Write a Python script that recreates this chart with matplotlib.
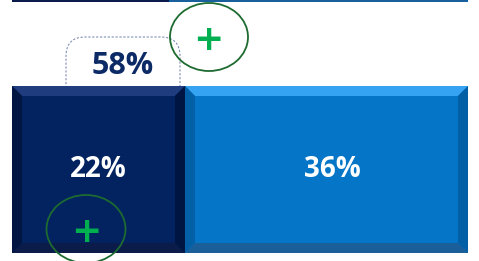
import numpy as np
import matplotlib.pyplot as plt
from matplotlib.patches import Ellipse, FancyBboxPatch, Polygon

plt.rcParams['font.family'] = ['Open Sans', 'DejaVu Sans']

# two stacked rows, the upper one is cut off by the top of the picture
rows = [0, 1]
part_a = [22, 20]      # dark segment (%)
part_b = [36, 38]      # light segment (%)
total_label = '58%'

navy = '#022260'
blue = '#0576C7'

fig = plt.figure(figsize=(4.79, 2.61), dpi=100)
ax = fig.add_axes([0, 0, 1, 1])
ax.set_xlim(-1.53, 59.4)
ax.set_ylim(-0.3645, 0.675)
ax.axis('off')

h = 0.665
bx = 10 / 7.86    # bevel width in x units
by = 10 / 251     # bevel width in y units


def bevel_bar(y, left, width, face, light, dark, side):
    ax.barh(y, width, left=left, height=h, color=face, zorder=3)
    x0, x1 = left, left + width
    y0, y1 = y - h / 2, y + h / 2
    top = [(x0, y1), (x1, y1), (x1 - bx, y1 - by), (x0 + bx, y1 - by)]
    bot = [(x0, y0), (x1, y0), (x1 - bx, y0 + by), (x0 + bx, y0 + by)]
    lft = [(x0, y0), (x0, y1), (x0 + bx, y1 - by), (x0 + bx, y0 + by)]
    rgt = [(x1, y0), (x1, y1), (x1 - bx, y1 - by), (x1 - bx, y0 + by)]
    ax.add_patch(Polygon(top, color=light, zorder=4, lw=0))
    ax.add_patch(Polygon(bot, color=dark, zorder=4, lw=0))
    ax.add_patch(Polygon(lft, color=side, zorder=4, lw=0))
    ax.add_patch(Polygon(rgt, color=side, zorder=4, lw=0))


for y, a, b in zip(rows, part_a, part_b):
    bevel_bar(y, 0, a, navy, '#1f3d7e', '#0b1c4a', '#011542')
    bevel_bar(y, a, b, blue, '#35a2f2', '#1a5f99', '#0460a6')

# labels inside the first row
ax.text(part_a[0] / 2, rows[0], f'{part_a[0]}%', color='white', fontsize=20,
        fontweight='bold', ha='center', va='center', zorder=6)
ax.text(part_a[0] + part_b[0] / 2 + 0.8, rows[0], f'{part_b[0]}%', color='white',
        fontsize=20, fontweight='bold', ha='center', va='center', zorder=6)

# total label in a dashed rounded box above the dark segment
tr = ax.transAxes
W, H = 479, 261
box = FancyBboxPatch((66 / W, (H - 120) / H), 114 / W, 83 / H,
                     boxstyle='round,pad=0,rounding_size=0.04',
                     transform=tr, fill=False, edgecolor='#7f8fb3',
                     linestyle=(0, (2, 1.5)), lw=0.8, zorder=2,
                     mutation_aspect=W / H)
ax.add_patch(box)
ax.text(123 / W, (H - 66) / H, total_label, transform=tr, color='#0b2a66',
        fontsize=22, fontweight='bold', ha='center', va='center', zorder=6)

# green "+" marks in circles
for cx, cy, w, hh, px, py in [(209, 37, 78, 68, 208, 40),
                              (86, 229, 79, 68, 86, 232)]:
    e = Ellipse((cx / W, (H - cy) / H), w / W, hh / H, transform=tr,
                fill=False, edgecolor='#1d6b30', lw=1.3, zorder=7)
    ax.add_patch(e)
    ax.text(px / W, (H - py) / H, '+', transform=tr, color='#00b050',
            fontsize=26, fontweight='bold', ha='center', va='center',
            family='DejaVu Sans', zorder=8)

fig.savefig('out.png', dpi=100)
